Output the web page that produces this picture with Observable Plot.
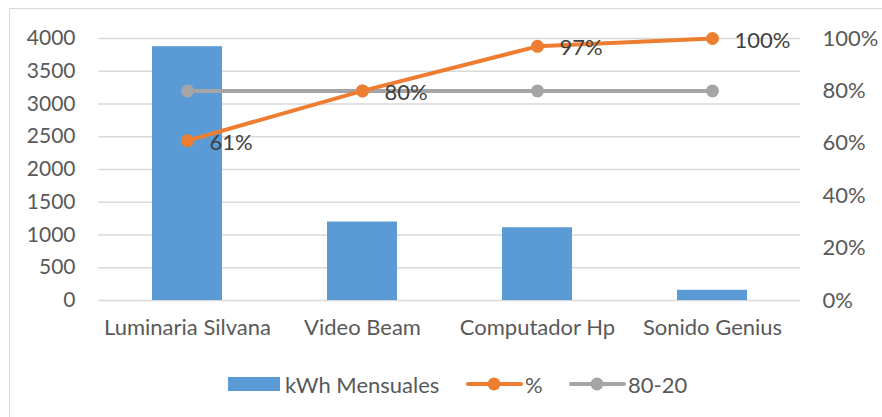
<!DOCTYPE html>
<html>
<head>
<meta charset="utf-8">
<script src="https://cdn.jsdelivr.net/npm/d3@7"></script>
<script src="https://cdn.jsdelivr.net/npm/@observablehq/plot@0.6"></script>
<style>
  html, body { margin: 0; padding: 0; background: #fff; overflow: hidden; }
  #wrap { position: relative; width: 882px; height: 417px; font-family: Lato, "Open Sans", sans-serif; }
  #border { position: absolute; left: 9px; top: 8px; width: 900px; height: 430px; border-left: 1px solid #D9D9D9; border-top: 1px solid #D9D9D9; }
  #plot { position: absolute; left: 0; top: 0; }
  #legend { position: absolute; left: 0; top: 370px; width: 882px; height: 28px; font-size: 22px; color: #595959; }
  .item { position: absolute; top: 0; height: 28px; display: flex; align-items: center; white-space: nowrap; }
</style>
</head>
<body>
<div id="wrap">
  <div id="border"></div>
  <div id="plot"></div>
  <div id="legend"></div>
</div>
<script>
const categories = ["Luminaria Silvana", "Video Beam", "Computador Hp", "Sonido Genius"];
const kwh = [3875, 1198, 1111, 156];
const pct = [0.61, 0.80, 0.97, 1.00];
const ref8020 = [0.80, 0.80, 0.80, 0.80];
const leftTicks = [0, 500, 1000, 1500, 2000, 2500, 3000, 3500, 4000];
const rightTicks = [0, 0.2, 0.4, 0.6, 0.8, 1.0];
const legendLabels = ["kWh Mensuales", "%", "80-20"];

const yMax = 4000;
const rows = categories.map((c, i) => ({cat: c, kwh: kwh[i], pct: pct[i], ref: ref8020[i]}));

const blue = "#5B9BD5", orange = "#ED7D31", gray = "#A5A5A5";

const chart = Plot.plot({
  width: 882,
  height: 345,
  marginLeft: 98,
  marginRight: 82,
  marginTop: 38,
  marginBottom: 45,
  style: {fontFamily: "Lato, 'Open Sans', sans-serif", fontSize: "21px", color: "#595959", background: "transparent"},
  x: {domain: categories, paddingInner: 0.6, paddingOuter: 0.3, label: null},
  y: {domain: [0, yMax], label: null},
  marks: [
    Plot.ruleY(leftTicks, {stroke: "#D9D9D9", strokeWidth: 1.3}),
    Plot.axisY({ticks: leftTicks, tickFormat: d => String(d), tickSize: 0, tickPadding: 23, label: null, fill: "#595959", fontSize: 21}),
    Plot.axisY({anchor: "right", ticks: rightTicks.map(t => t * yMax), tickFormat: d => Math.round(d / yMax * 100) + "%", tickSize: 0, tickPadding: 22, textAnchor: "start", label: null, fill: "#595959", fontSize: 22}),
    Plot.axisX({tickSize: 0, tickPadding: 19, label: null, fill: "#595959", fontSize: 22}),
    Plot.barY(rows, {x: "cat", y: "kwh", fill: blue}),
    Plot.line(rows, {x: "cat", y: d => d.ref * yMax, stroke: gray, strokeWidth: 4}),
    Plot.dot(rows, {x: "cat", y: d => d.ref * yMax, r: 6.5, fill: gray}),
    Plot.line(rows, {x: "cat", y: d => d.pct * yMax, stroke: orange, strokeWidth: 4}),
    Plot.dot(rows, {x: "cat", y: d => d.pct * yMax, r: 6.5, fill: orange}),
    Plot.text(rows, {x: "cat", y: d => d.pct * yMax, text: d => Math.round(d.pct * 100) + "%", textAnchor: "start", dx: 22, dy: 2, fill: "#404040", fontSize: 22})
  ]
});
document.getElementById("plot").appendChild(chart);

// Legend
const legend = d3.select("#legend");
const items = [
  {left: 228, type: "bar", color: blue, label: legendLabels[0]},
  {left: 466, type: "line", color: orange, label: legendLabels[1]},
  {left: 569, type: "line", color: gray, label: legendLabels[2]}
];
items.forEach(it => {
  const div = legend.append("div").attr("class", "item").style("left", it.left + "px");
  const svg = div.append("svg").attr("width", 57).attr("height", 28).style("margin-right", it.type === "bar" ? "0px" : "2px");
  if (it.type === "bar") {
    svg.append("rect").attr("x", 0).attr("y", 7).attr("width", 52).attr("height", 14).attr("fill", it.color);
  } else {
    svg.append("line").attr("x1", 2).attr("x2", 55).attr("y1", 14).attr("y2", 14).attr("stroke", it.color).attr("stroke-width", 4).attr("stroke-linecap", "round");
    svg.append("circle").attr("cx", 28).attr("cy", 14).attr("r", 6.5).attr("fill", it.color);
  }
  div.append("span").text(it.label);
});
</script>
</body>
</html>
